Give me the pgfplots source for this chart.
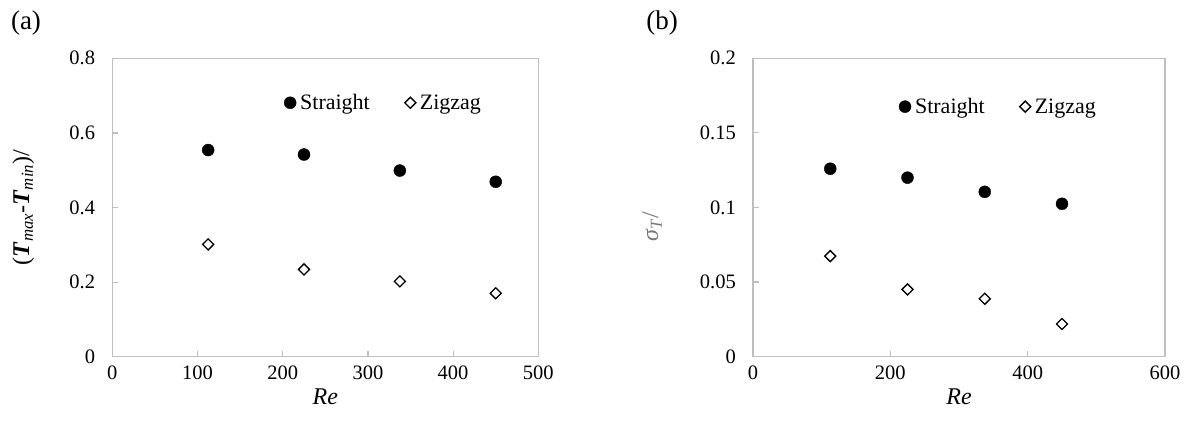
\documentclass[border=0pt]{standalone}
\usepackage{pgfplots}
\pgfplotsset{compat=1.18}
\usepackage{fontspec}
\setmainfont{Liberation Serif}
\definecolor{axgray}{RGB}{191,191,191}
\definecolor{lblgray}{RGB}{120,120,120}

\pgfplotsset{
  panel/.style={
    scale only axis,
    anchor=south west,
    height=298.4bp,
    axis line style={axgray, line width=1.4bp},
    tick style={axgray, line width=1.2bp},
    major tick length=6bp,
    tick align=inside,
    xtick pos=bottom, ytick pos=left,
    /pgf/number format/assume math mode=true,
    ticklabel style={font=\fontsize{20.5bp}{24bp}\selectfont, inner sep=0pt},
    yticklabel style={xshift=-17bp},
    xticklabel style={yshift=-9bp},
    label style={font=\fontsize{24bp}{28bp}\selectfont},
    xlabel style={at={(axis description cs:0.5,0)}, anchor=center, yshift=-40bp},
    legend style={draw=none, fill=none, inner sep=0pt, legend columns=2,
      font=\fontsize{22bp}{26bp}\selectfont,
      nodes={inner sep=4bp},
      /tikz/every even column/.append style={column sep=31bp}},
    legend image code/.code={\draw[#1] plot coordinates {(0bp,0bp)};},
    ymin=0,
  },
  straight/.style={only marks, mark=*, mark size=6bp, black, mark options={fill=black}},
  zigzag/.style={only marks, mark=square, mark size=3.9bp, black,
    mark options={rotate=45, fill=white, line width=1.3bp}},
}

\pgfplotstableread{
Re   straight zigzag
112.5 0.554 0.301
225   0.542 0.234
337.5 0.499 0.202
450   0.469 0.170
}\dataA
\pgfplotstableread{
Re   straight zigzag
112.5 0.126 0.0674
225   0.120 0.0451
337.5 0.1105 0.0388
450   0.1025 0.0219
}\dataB

\begin{document}
\begin{tikzpicture}
\path[use as bounding box] (0,0) rectangle (1192bp,431bp);

\begin{axis}[panel,
  at={(112.3bp,74.3bp)},
  width=426bp,
  xmin=0, xmax=500, xtick={0,100,...,500},
  ymax=0.8, ytick={0,0.2,0.4,0.6,0.8},
  xlabel={\textit{Re}},
  ylabel={(\textbf{\textit{T}}\textsubscript{\textit{max}}-\textbf{\textit{T}}\textsubscript{\textit{min}})/},
  ylabel style={at={(axis description cs:-0.209,0.5)}, anchor=center, rotate=0},
  legend style={at={(axis description cs:0.403,0.851)}, anchor=west},
]
\addplot[straight] table[x=Re, y=straight] {\dataA};
\addplot[zigzag] table[x=Re, y=zigzag] {\dataA};
\legend{Straight, Zigzag}
\end{axis}

\begin{axis}[panel,
  at={(753bp,74.3bp)},
  width=412bp,
  xmin=0, xmax=600, xtick={0,200,400,600},
  ymax=0.2, ytick={0,0.05,0.1,0.15,0.2},
  /pgf/number format/fixed, /pgf/number format/precision=2,
  xlabel={\textit{Re}},
  ylabel={\textcolor{lblgray}{\textit{σ}\textsubscript{\textit{T}}/}},
  ylabel style={at={(axis description cs:-0.245,0.435)}, anchor=center, rotate=0},
  legend style={at={(axis description cs:0.354,0.838)}, anchor=west},
]
\addplot[straight] table[x=Re, y=straight] {\dataB};
\addplot[zigzag] table[x=Re, y=zigzag] {\dataB};
\legend{Straight, Zigzag}
\end{axis}

\node[font=\fontsize{27bp}{31bp}\selectfont] at (26bp,408bp) {(a)};
\node[font=\fontsize{27bp}{31bp}\selectfont] at (662bp,408bp) {(b)};
\end{tikzpicture}
\end{document}
